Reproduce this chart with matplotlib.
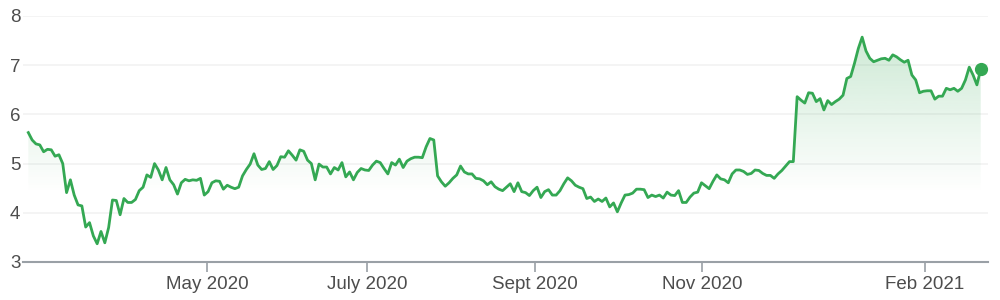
import numpy as np
import matplotlib
matplotlib.use("Agg")
import matplotlib.pyplot as plt
from matplotlib.patches import Polygon

# daily closing values, late Feb 2020 -> Feb 2021
values = [
    5.63, 5.48, 5.40, 5.38, 5.24, 5.29, 5.28, 5.15, 5.18, 5.00,
    4.41, 4.67, 4.36, 4.16, 4.14, 3.71, 3.80, 3.53, 3.37, 3.62,
    3.39, 3.70, 4.26, 4.25, 3.96, 4.29, 4.21, 4.21, 4.27, 4.45,
    4.52, 4.77, 4.72, 5.00, 4.87, 4.67, 4.92, 4.67, 4.57, 4.38,
    4.61, 4.68, 4.65, 4.67, 4.66, 4.70, 4.36, 4.43, 4.61, 4.65,
    4.64, 4.48, 4.56, 4.52, 4.49, 4.52, 4.75, 4.88, 4.99, 5.20,
    4.97, 4.88, 4.90, 5.04, 4.88, 4.96, 5.14, 5.13, 5.26, 5.17,
    5.07, 5.28, 5.25, 5.07, 5.00, 4.67, 4.99, 4.93, 4.93, 4.79,
    4.92, 4.87, 5.02, 4.73, 4.83, 4.67, 4.82, 4.90, 4.87, 4.86,
    4.97, 5.05,
    5.02, 4.90, 4.79, 5.02, 4.97, 5.09, 4.92, 5.05, 5.10, 5.13,
    5.13, 5.12, 5.34, 5.51, 5.48, 4.75, 4.63, 4.54, 4.61, 4.70,
    4.77, 4.95, 4.83, 4.79, 4.79, 4.70, 4.69, 4.65, 4.57, 4.63,
    4.53, 4.48,
    4.45, 4.52, 4.59, 4.43, 4.61, 4.43, 4.41, 4.35, 4.45, 4.52,
    4.31, 4.43, 4.47, 4.36, 4.36, 4.45, 4.59, 4.71, 4.65, 4.56,
    4.52, 4.49, 4.29, 4.32, 4.23, 4.28, 4.23, 4.30, 4.12, 4.20,
    4.02,
    4.20, 4.36, 4.37, 4.40, 4.48, 4.48, 4.47, 4.31, 4.36, 4.33,
    4.36, 4.30, 4.42, 4.36, 4.35, 4.45, 4.21, 4.21, 4.32, 4.40,
    4.42, 4.61, 4.55, 4.49, 4.64, 4.77, 4.69, 4.67, 4.61, 4.79,
    4.87, 4.87,
    4.84, 4.78, 4.80, 4.87, 4.86, 4.80, 4.76, 4.76, 4.70, 4.79,
    4.86, 4.95, 5.04, 5.04, 6.36, 6.29, 6.23, 6.44, 6.43, 6.26,
    6.32, 6.09, 6.28, 6.20, 6.26, 6.31, 6.39, 6.73, 6.77, 7.04,
    7.34, 7.57,
    7.29, 7.14, 7.07, 7.10, 7.13, 7.14, 7.10, 7.21, 7.17, 7.11,
    7.06, 7.10, 6.80, 6.70, 6.44, 6.47, 6.48, 6.48, 6.31, 6.37,
    6.37, 6.53, 6.50, 6.53, 6.47, 6.53, 6.70, 6.96, 6.80, 6.60,
    6.92,
]
month_labels = ["May 2020", "July 2020", "Sept 2020", "Nov 2020", "Feb 2021"]
month_pos = [46.7, 88.5, 132.4, 176.1, 234.3]
y_ticks = [3, 4, 5, 6, 7, 8]

green = "#34a853"
plt.rcParams["font.family"] = ["Liberation Sans", "DejaVu Sans"]

fig = plt.figure(figsize=(10, 3), dpi=100)
ax = fig.add_axes([0.023, 0.1267, 0.965, 0.82])

x = np.arange(len(values))
vals = np.array(values)

# gradient fill under the line
base = 4.4
grad = np.zeros((256, 1, 4))
grad[:, 0, 0] = 52 / 255
grad[:, 0, 1] = 168 / 255
grad[:, 0, 2] = 83 / 255
grad[:, 0, 3] = np.linspace(0.0, 0.24, 256)
im = ax.imshow(grad, origin="lower", aspect="auto",
               extent=[x[0], x[-1], base, vals.max()], zorder=1)
verts = [(x[0], base)] + list(zip(x, vals)) + [(x[-1], base)]
clip = Polygon(verts, closed=True, transform=ax.transData)
im.set_clip_path(clip)

ax.plot(x, vals, color=green, lw=2.0, zorder=3)
ax.plot(x[-1], vals[-1], "o", ms=8.5, color=green, zorder=4, clip_on=False)

ax.set_xlim(-1.39, 250.9)
ax.set_ylim(3, 8)
ax.set_yticks(y_ticks)
ax.set_xticks(month_pos)
ax.set_xticklabels(month_labels)

ax.grid(axis="y", color="#f2f2f2", lw=1.2)
ax.set_axisbelow(True)
for s in ["top", "right", "left"]:
    ax.spines[s].set_visible(False)
ax.spines["bottom"].set_color("#9aa0a6")
ax.spines["bottom"].set_linewidth(1.5)

ax.tick_params(axis="x", length=7, width=1.2, color="#9aa0a6",
               labelcolor="#4d4d4d", labelsize=13.5, pad=3)
ax.tick_params(axis="y", length=0, labelcolor="#4d4d4d", labelsize=13.5, pad=2)

fig.savefig("out.png", dpi=100)
